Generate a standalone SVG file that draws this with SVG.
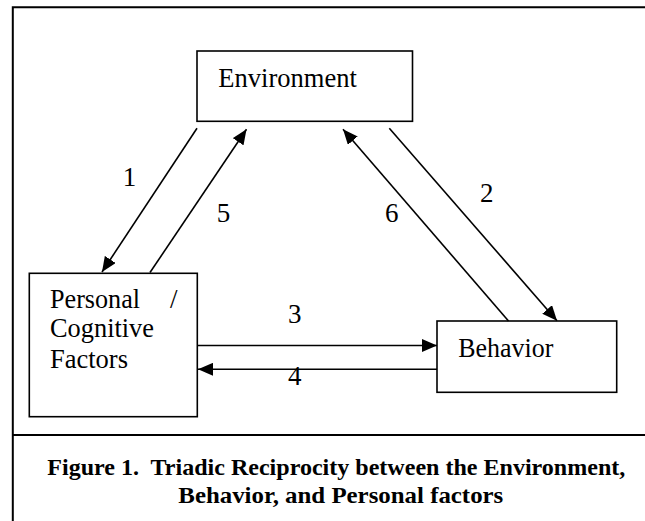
<svg xmlns="http://www.w3.org/2000/svg" width="645" height="521" viewBox="0 0 645 521">
<style>
.frame{stroke:#000;stroke-width:2;fill:none}
.box{fill:#fff;stroke:#000;stroke-width:1.6}
.conn{stroke:#000;stroke-width:1.6;fill:none;marker-end:url(#ah)}
</style>
<defs>
<marker id="ah" markerUnits="userSpaceOnUse" markerWidth="16" markerHeight="13" refX="15" refY="6.5" orient="auto">
<path d="M0,0 L15,6.5 L0,13 z" fill="#000"/>
</marker>
</defs>
<rect width="645" height="521" fill="#fff"/>
<g id="frame">
<path class="frame" d="M12.8,521 V7.3 H645"/>
<path class="frame" d="M12.8,435 H645"/>
</g>
<g font-family="'Liberation Serif', 'Times New Roman', serif" font-size="27" fill="#000">
<g id="environment">
<rect class="box" x="197" y="51" width="215.5" height="70.3"/>
<text x="218.3" y="86.7" textLength="138.5" lengthAdjust="spacingAndGlyphs">Environment</text>
</g>
<g id="personal">
<rect class="box" x="29.3" y="273.3" width="168" height="143.4"/>
<text x="50" y="307.7" textLength="90" lengthAdjust="spacingAndGlyphs">Personal</text>
<text x="170" y="307.7">/</text>
<text x="50" y="337.3" textLength="104" lengthAdjust="spacingAndGlyphs">Cognitive</text>
<text x="50" y="368.3" textLength="78" lengthAdjust="spacingAndGlyphs">Factors</text>
</g>
<g id="behavior">
<rect class="box" x="437" y="321" width="179.7" height="71.3"/>
<text x="458.3" y="356.7" textLength="95" lengthAdjust="spacingAndGlyphs">Behavior</text>
</g>
<g id="connectors">
<line class="conn" x1="197" y1="128.3" x2="102" y2="272"/>
<line class="conn" x1="150" y1="272.5" x2="246.5" y2="129.3"/>
<line class="conn" x1="389.3" y1="128.3" x2="557" y2="320.7"/>
<line class="conn" x1="508.5" y1="321" x2="343" y2="129.3"/>
<line class="conn" x1="198" y1="345.5" x2="437" y2="345.5"/>
<line class="conn" x1="437" y1="369.3" x2="198" y2="369.3"/>
</g>
<g id="labels">
<text x="122.7" y="186">1</text>
<text x="480" y="201.7">2</text>
<text x="288" y="323.3">3</text>
<text x="288" y="385">4</text>
<text x="216.7" y="222">5</text>
<text x="385" y="221.7">6</text>
</g>
<g id="caption" font-size="24" font-weight="bold">
<text x="47.3" y="475" textLength="578" lengthAdjust="spacingAndGlyphs" xml:space="preserve">Figure 1.  Triadic Reciprocity between the Environment,</text>
<text x="178.3" y="503.3" textLength="325" lengthAdjust="spacingAndGlyphs">Behavior, and Personal factors</text>
</g>
</g>
</svg>
